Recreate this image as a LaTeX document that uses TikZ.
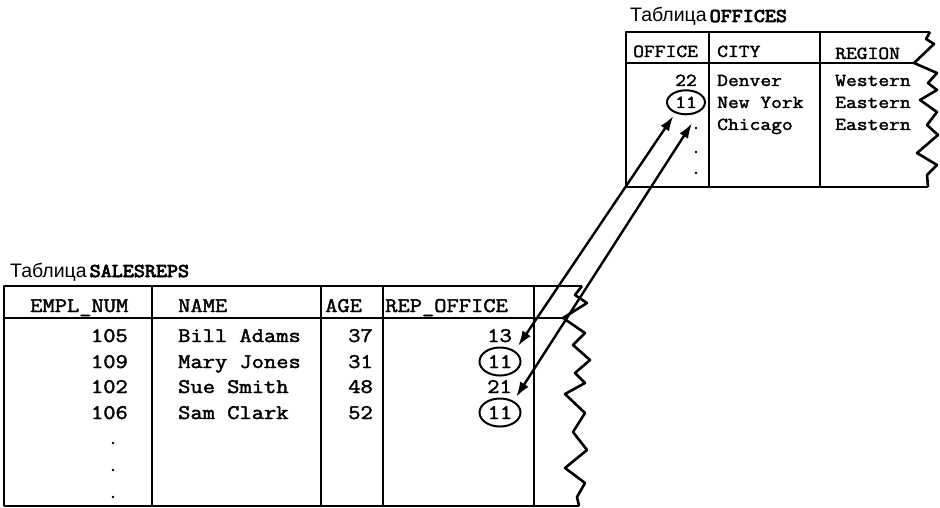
\documentclass[tikz,border=0pt]{standalone}
\usepackage{fontspec}
\setmainfont{Liberation Sans}
\newfontfamily\typefont[FakeStretch=1.145, FakeBold=2]{Latin Modern Mono}
\newfontfamily\typebold[FakeStretch=1.1, FakeBold=4]{Latin Modern Mono}
\usepackage{tikz}
\usetikzlibrary{arrows.meta,shapes.geometric}

\newcommand{\repfont}{\fontsize{20.8}{22}\typefont}
\newcommand{\offfont}{\fontsize{18.3}{20}\typefont}
\newcommand{\tabtitle}[1]{{\fontsize{19.5}{22}\selectfont Таблица}\hspace{3pt}{\fontsize{19.5}{22}\typebold #1}}

\begin{document}
\begin{tikzpicture}[
		x=1pt, y=-1pt,
		tab/.style={line width=2.6pt, line join=round},
		reptxt/.style={font=\repfont, inner sep=0pt},
		offtxt/.style={font=\offfont, inner sep=0pt},
		ring/.style={ellipse, draw, line width=2pt, inner sep=0pt},
		link/.style={line width=2.4pt, {Latex[length=15pt,width=10pt]}-{Latex[length=15pt,width=10pt]}}
		]
		
		\path[use as bounding box, fill=white] (0,0) rectangle (940,508);
		
		% OFFICES table
		\node[anchor=base west, inner sep=0pt] (tOff) at (630,22) {\tabtitle{OFFICES}};
		\draw[tab] (930,32) -- (626,32) -- (626,187) -- (928,187);
		\draw[tab] (626,63) -- (914,63);
		\draw[tab] (709,32) -- (709,187);
		\draw[tab] (820,32) -- (820,187);
		\draw[tab] (930,32) -- (926,39) -- (934,44) -- (914,63) -- (937,73) -- (928,83) -- (937,90)
			-- (920,100) -- (937,112) -- (927,125) -- (938,135) -- (917,153) -- (937,165) -- (927,175) -- (928,187);
		
		\node[offtxt, anchor=base west] (hOffice) at (633,57) {OFFICE};
		\node[offtxt, anchor=base west] (hCity) at (717,57) {CITY};
		\node[offtxt, anchor=base west] (hRegion) at (835,59) {REGION};
		
		\node[offtxt, anchor=base east] (off22) at (697,86) {22};
		\node[offtxt, ring, minimum width=38pt, minimum height=24pt, anchor=base] (off11) at (686,108) {11};
		\node[offtxt, anchor=base west] (cDen) at (717,86) {Denver};
		\node[offtxt, anchor=base west] (cNY) at (717,108) {New York};
		\node[offtxt, anchor=base west] (cChi) at (717,130) {Chicago};
		\node[offtxt, anchor=base west] (rDen) at (835,86) {Western};
		\node[offtxt, anchor=base west] (rNY) at (835,108) {Eastern};
		\node[offtxt, anchor=base west] (rChi) at (835,130) {Eastern};
		\fill (696,128) circle[radius=1.4pt] (696,152) circle[radius=1.4pt] (696,173) circle[radius=1.4pt];
		
		% SALESREPS table
		\node[anchor=base west, inner sep=0pt] (tRep) at (10,277) {\tabtitle{SALESREPS}};
		\draw[tab] (582,286) -- (4,286) -- (4,506) -- (579,506);
		\draw[tab] (4,318) -- (563,318);
		\draw[tab] (152,286) -- (152,506);
		\draw[tab] (321,286) -- (321,506);
		\draw[tab] (383,286) -- (383,506);
		\draw[tab] (534,286) -- (534,506);
		\draw[tab] (582,286) -- (575,295) -- (587,303) -- (563,318) -- (585,333) -- (573,345) -- (590,360)
			-- (575,373) -- (585,383) -- (565,394) -- (585,413) -- (573,432) -- (587,450) -- (565,468)
			-- (585,483) -- (577,497) -- (579,506);
		
		\node[reptxt, anchor=base west] (hEmpl) at (30,312) {EMPL\_NUM};
		\node[reptxt, anchor=base west] (hName) at (178,312) {NAME};
		\node[reptxt, anchor=base west] (hAge) at (325,312) {AGE};
		\node[reptxt, anchor=base west] (hRep) at (385,312) {REP\_OFFICE};
		
		\node[reptxt, anchor=base east] (e105) at (128,342) {105};
		\node[reptxt, anchor=base east] (e109) at (128,368) {109};
		\node[reptxt, anchor=base east] (e102) at (128,393) {102};
		\node[reptxt, anchor=base east] (e106) at (128,419) {106};
		\node[reptxt, anchor=base west] (nBill) at (178,342) {Bill Adams};
		\node[reptxt, anchor=base west] (nMary) at (178,368) {Mary Jones};
		\node[reptxt, anchor=base west] (nSue) at (178,393) {Sue Smith};
		\node[reptxt, anchor=base west] (nSam) at (178,419) {Sam Clark};
		\node[reptxt, anchor=base east] (a37) at (373,342) {37};
		\node[reptxt, anchor=base east] (a31) at (373,368) {31};
		\node[reptxt, anchor=base east] (a48) at (373,393) {48};
		\node[reptxt, anchor=base east] (a52) at (373,419) {52};
		\node[reptxt, anchor=base east] (rep13) at (512,342) {13};
		\node[reptxt, ring, minimum width=41pt, minimum height=28pt, anchor=base] (rep11a) at (500,368) {11};
		\node[reptxt, anchor=base east] (rep21) at (512,393) {21};
		\node[reptxt, ring, minimum width=41pt, minimum height=28pt, anchor=base] (rep11b) at (500,419) {11};
		\fill (113,443) circle[radius=1.4pt] (113,470) circle[radius=1.4pt] (113,497) circle[radius=1.4pt];
		
		% links between the two tables
		\draw[link] ([shift={(3,-5)}]rep11a.north east) -- ([shift={(1.5,4.5)}]off11.south west);
		\draw[link] ([shift={(1,-5)}]rep11b.north east) -- ([shift={(6,8)}]off11.south);
		
	\end{tikzpicture}
\end{document}
